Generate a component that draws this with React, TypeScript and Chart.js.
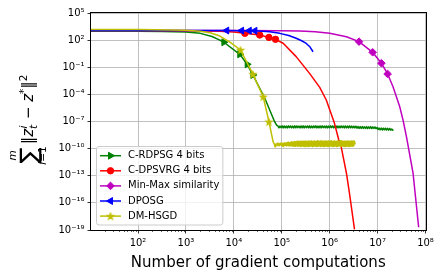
import React, { useEffect, useRef } from 'react';
import { Chart, registerables } from 'chart.js';

Chart.register(...registerables);

type Pt = [number, number];

// ---------- axes ----------
const xTickValues = [1e2, 1e3, 1e4, 1e5, 1e6, 1e7, 1e8];
const xTickLabels = ['10²', '10³', '10⁴', '10⁵', '10⁶', '10⁷', '10⁸'];
const yTickValues = [1e5, 1e2, 1e-1, 1e-4, 1e-7, 1e-10, 1e-13, 1e-16, 1e-19];
const yTickLabels = ['10⁵', '10²', '10⁻¹', '10⁻⁴', '10⁻⁷', '10⁻¹⁰', '10⁻¹³', '10⁻¹⁶', '10⁻¹⁹'];
const xMin = 10.45;
const xMax = 1e8;
const yMin = 1e-19;
const yMax = 1e5;
const xTitle = 'Number of gradient computations';

// ---------- series ----------
const seriesNames = ['C-RDPSG 4 bits', 'C-DPSVRG 4 bits', 'Min-Max similarity', 'DPOSG', 'DM-HSGD'];

const rdpsgPoints: Pt[] = [
  [10.45, 9.5e2], [1e2, 9.5e2], [3.2e2, 9.2e2], [1e3, 7.8e2], [2e3, 5.6e2], [3.5e3, 2.5e2], [5.1e3, 1.0e2],
  [6.2e3, 5.8e1], [1.33e4, 2.7], [1.9e4, 2.1e-1], [2.5e4, 1.4e-2], [4.5e4, 3.1e-5], [7.1e4, 9.5e-8], [7.8e4, 4.0e-8],
  [8.3e4, 3.2e-8], [8.73e4, 2.0e-8], [9.18e4, 3.1e-8], [9.66e4, 2.1e-8], [1.016e5, 3.3e-8], [1.069e5, 1.95e-8],
  [1.125e5, 3.2e-8], [1.183e5, 2.0e-8], [1.245e5, 3.1e-8], [1.309e5, 1.95e-8], [1.377e5, 3.3e-8], [1.449e5, 2.1e-8],
  [1.524e5, 3.2e-8], [1.604e5, 2.0e-8], [1.687e5, 3.1e-8], [1.775e5, 1.95e-8], [1.867e5, 3.3e-8], [1.964e5, 2.0e-8],
  [2.066e5, 3.2e-8], [2.174e5, 2.1e-8], [2.287e5, 3.1e-8], [2.406e5, 1.95e-8], [2.531e5, 3.2e-8], [2.662e5, 2.0e-8],
  [2.801e5, 3.3e-8], [2.946e5, 1.95e-8], [3.099e5, 3.1e-8], [3.261e5, 2.1e-8], [3.43e5, 3.2e-8], [3.609e5, 2.0e-8],
  [3.796e5, 3.3e-8], [3.994e5, 1.95e-8], [4.201e5, 3.1e-8], [4.42e5, 2.0e-8], [4.65e5, 3.2e-8], [4.891e5, 2.1e-8],
  [5.146e5, 3.3e-8], [5.413e5, 1.95e-8], [5.695e5, 3.1e-8], [5.991e5, 2.0e-8], [6.302e5, 3.2e-8], [6.63e5, 1.95e-8],
  [6.975e5, 3.3e-8], [7.337e5, 2.1e-8], [7.719e5, 3.1e-8], [8.12e5, 2.0e-8], [8.542e5, 3.2e-8], [8.986e5, 1.95e-8],
  [9.454e5, 3.1e-8], [9.945e5, 2.0e-8], [1.046e6, 3.3e-8], [1.101e6, 2.1e-8], [1.158e6, 3.2e-8], [1.218e6, 1.95e-8],
  [1.281e6, 3.1e-8], [1.348e6, 2.0e-8], [1.418e6, 3.2e-8], [1.492e6, 1.95e-8], [1.57e6, 3.1e-8], [1.651e6, 2.0e-8],
  [1.737e6, 3.2e-8], [1.827e6, 2.1e-8], [1.922e6, 3.1e-8], [2.022e6, 1.95e-8], [2.128e6, 3.2e-8], [2.238e6, 2.0e-8],
  [2.355e6, 3.1e-8], [2.477e6, 1.95e-8], [2.606e6, 3.2e-8], [2.741e6, 2.0e-8], [2.884e6, 3.1e-8], [3.034e6, 2.0e-8],
  [3.191e6, 3.0e-8], [3.357e6, 1.95e-8], [3.532e6, 3.0e-8], [3.716e6, 1.8e-8], [3.909e6, 2.8e-8], [4.112e6, 1.75e-8],
  [4.326e6, 2.7e-8], [4.551e6, 1.7e-8], [4.787e6, 2.7e-8], [5.036e6, 1.75e-8], [5.298e6, 2.6e-8], [5.574e6, 1.7e-8],
  [5.864e6, 2.7e-8], [6.169e6, 1.65e-8], [6.489e6, 2.6e-8], [6.827e6, 1.7e-8], [7.182e6, 2.7e-8], [7.555e6, 1.65e-8],
  [7.948e6, 2.6e-8], [8.361e6, 1.7e-8], [8.796e6, 2.5e-8], [9.253e6, 1.6e-8], [9.735e6, 2.2e-8], [1.024e7, 1.3e-8],
  [1.077e7, 1.9e-8], [1.133e7, 1.2e-8], [1.192e7, 1.85e-8], [1.254e7, 1.15e-8], [1.319e7, 1.8e-8], [1.388e7, 1.2e-8],
  [1.46e7, 1.8e-8], [1.536e7, 1.15e-8], [1.616e7, 1.75e-8], [1.7e7, 1.1e-8], [1.788e7, 1.7e-8], [1.881e7, 1.1e-8],
  [1.979e7, 1.5e-8], [2.082e7, 1.1e-8], [2.15e7, 1.2e-8],
];
const rdpsgMarks = [7, 8, 9, 10];

const dpsvrgPoints: Pt[] = [
  [10.45, 1.15e3], [1e2, 1.15e3], [1e3, 1.1e3], [5e3, 9.5e2], [1e4, 8.0e2], [1.7e4, 5.6e2], [3.47e4, 3.7e2],
  [5.4e4, 2.0e2], [7.4e4, 1.23e2], [1.07e5, 4.5e1], [2.0e5, 1.5], [3.8e5, 2.1e-2], [6.2e5, 6.0e-4],
  [8.5e5, 2.4e-5], [1.26e6, 6.3e-8], [1.55e6, 8.9e-10], [1.74e6, 1.6e-10], [2.24e6, 1.9e-13], [2.6e6, 1.0e-15],
  [3.3e6, 1.2e-19],
];
const dpsvrgMarks = [5, 6, 7, 8];

const minmaxPoints: Pt[] = [
  [10.45, 1.15e3], [1e2, 1.15e3], [1e4, 1.13e3], [1e5, 1.08e3], [2.4e5, 1.0e3], [5e5, 8.2e2], [1e6, 5.6e2],
  [2.24e6, 2.4e2], [4.1e6, 6.8e1], [7.9e6, 4.5], [1.2e7, 2.8e-1], [1.62e7, 1.8e-2], [2.1e7, 7.0e-4],
  [2.9e7, 4.3e-6], [3.4e7, 1.4e-7], [4.0e7, 2.1e-9], [5.5e7, 1.9e-13], [7.2e7, 2.0e-19],
];
const minmaxMarks = [8, 9, 10, 11];

const dposgPoints: Pt[] = [
  [10.45, 1.15e3], [1e2, 1.15e3], [1e3, 1.15e3], [7.1e3, 1.14e3], [1.45e4, 1.12e3], [2.1e4, 1.1e3],
  [2.75e4, 1.08e3], [5.6e4, 8.5e2], [9.1e4, 5.6e2], [1.4e5, 3.2e2], [2.0e5, 1.6e2], [2.6e5, 8.5e1],
  [3.25e5, 4.3e1], [3.9e5, 1.7e1], [4.5e5, 5.2],
];
const dposgMarks = [3, 4, 5, 6];

const hsgdPoints: Pt[] = [
  [10.45, 1.45e3], [1e2, 1.45e3], [5e2, 1.35e3], [1e3, 1.2e3], [2e3, 9.5e2], [3.2e3, 6.5e2], [5.1e3, 2.8e2],
  [8.3e3, 6.0e1], [1.38e4, 8.1], [2.5e4, 1.7e-2], [4.1e4, 5.5e-5], [5.4e4, 9.5e-8], [6.6e4, 6.0e-10],
  [7.0e4, 3.0e-10], [7.25e4, 1.6e-10], [7.5e4, 3.3e-10], [7.76e4, 2.4e-10], [8.03e4, 4.0e-10], [8.31e4, 2.2e-10],
  [8.6e4, 3.6e-10], [8.9e4, 2.1e-10], [9.21e4, 3.9e-10], [9.53e4, 2.5e-10], [9.86e4, 4.3e-10], [1.02e5, 2.0e-10],
  [1.056e5, 3.8e-10], [1.093e5, 1.7e-10], [1.131e5, 4.5e-10], [1.17e5, 2.3e-10], [1.211e5, 4.1e-10], [1.253e5, 2.0e-10],
  [1.297e5, 4.8e-10], [1.342e5, 2.2e-10], [1.389e5, 5.2e-10], [1.438e5, 1.9e-10], [1.488e5, 4.9e-10], [1.54e5, 2.1e-10],
  [1.594e5, 5.6e-10], [1.65e5, 1.9e-10], [1.707e5, 5.3e-10], [1.767e5, 2.0e-10], [1.829e5, 6.0e-10], [1.893e5, 1.8e-10],
  [1.959e5, 5.7e-10], [2.027e5, 2.1e-10], [2.098e5, 6.4e-10], [2.172e5, 1.8e-10], [2.248e5, 6.1e-10], [2.326e5, 1.9e-10],
  [2.408e5, 6.6e-10], [2.492e5, 1.7e-10], [2.579e5, 6.2e-10], [2.669e5, 2.0e-10], [2.763e5, 6.8e-10], [2.86e5, 1.8e-10],
  [2.96e5, 6.5e-10], [3.063e5, 1.7e-10], [3.17e5, 7.0e-10], [3.281e5, 1.9e-10], [3.396e5, 6.3e-10], [3.515e5, 1.7e-10],
  [3.638e5, 6.9e-10], [3.765e5, 1.8e-10], [3.897e5, 6.6e-10], [4.033e5, 2.0e-10], [4.175e5, 7.1e-10], [4.321e5, 1.7e-10],
  [4.472e5, 6.4e-10], [4.628e5, 1.8e-10], [4.79e5, 7.0e-10], [4.958e5, 1.9e-10], [5.131e5, 6.7e-10], [5.311e5, 1.7e-10],
  [5.497e5, 7.2e-10], [5.689e5, 1.8e-10], [5.888e5, 6.5e-10], [6.094e5, 2.0e-10], [6.308e5, 7.0e-10], [6.528e5, 1.7e-10],
  [6.757e5, 6.8e-10], [6.993e5, 1.9e-10], [7.238e5, 7.1e-10], [7.491e5, 1.7e-10], [7.754e5, 6.6e-10], [8.025e5, 1.8e-10],
  [8.306e5, 7.2e-10], [8.597e5, 1.9e-10], [8.898e5, 6.5e-10], [9.209e5, 1.7e-10], [9.531e5, 7.0e-10], [9.865e5, 1.8e-10],
  [1.021e6, 6.8e-10], [1.057e6, 2.0e-10], [1.094e6, 7.2e-10], [1.132e6, 1.7e-10], [1.172e6, 6.6e-10], [1.213e6, 1.8e-10],
  [1.255e6, 7.1e-10], [1.299e6, 1.9e-10], [1.345e6, 6.7e-10], [1.392e6, 1.7e-10], [1.44e6, 7.0e-10], [1.491e6, 1.8e-10],
  [1.543e6, 6.5e-10], [1.597e6, 2.0e-10], [1.653e6, 7.2e-10], [1.711e6, 1.7e-10], [1.771e6, 6.8e-10], [1.833e6, 1.9e-10],
  [1.897e6, 7.0e-10], [1.963e6, 1.8e-10], [2.032e6, 6.6e-10], [2.103e6, 1.7e-10], [2.177e6, 7.1e-10], [2.253e6, 1.9e-10],
  [2.332e6, 6.7e-10], [2.413e6, 1.8e-10], [2.498e6, 7.0e-10], [2.585e6, 1.7e-10], [2.676e6, 6.5e-10], [2.769e6, 1.9e-10],
  [2.866e6, 7.1e-10], [2.967e6, 1.8e-10], [3.07e6, 6.8e-10], [3.178e6, 2.0e-10], [3.289e6, 6.6e-10], [3.4e6, 3.0e-10],
];
const hsgdMarks = [8, 9, 10, 11];

// ---------- styles ----------
const FONT = '"DejaVu Sans", sans-serif';
const colors = ['#008000', '#ff0000', '#bf00bf', '#0000ff', '#bfbf00'];

function makeStar(color: string): HTMLCanvasElement {
  const c = document.createElement('canvas');
  c.width = 12;
  c.height = 12;
  const g = c.getContext('2d')!;
  g.beginPath();
  for (let i = 0; i < 10; i++) {
    const r = i % 2 === 0 ? 5 : 2.1;
    const a = -Math.PI / 2 + (i * Math.PI) / 5;
    const px = 6 + r * Math.cos(a);
    const py = 6.4 + r * Math.sin(a);
    if (i === 0) g.moveTo(px, py);
    else g.lineTo(px, py);
  }
  g.closePath();
  g.fillStyle = color;
  g.fill();
  return c;
}

function drawMarker(ctx: CanvasRenderingContext2D, kind: string, x: number, y: number, color: string, star: HTMLCanvasElement) {
  ctx.save();
  ctx.fillStyle = color;
  ctx.strokeStyle = color;
  ctx.lineWidth = 1;
  ctx.beginPath();
  if (kind === 'right' || kind === 'left') {
    const r = 4;
    const d = kind === 'right' ? 1 : -1;
    ctx.moveTo(x + d * r, y);
    ctx.lineTo(x - d * r * 0.5, y - r * 0.866);
    ctx.lineTo(x - d * r * 0.5, y + r * 0.866);
    ctx.closePath();
    ctx.fill();
    ctx.stroke();
  } else if (kind === 'circle') {
    ctx.arc(x, y, 3.2, 0, Math.PI * 2);
    ctx.fill();
    ctx.stroke();
  } else if (kind === 'diamond') {
    const r = 3.8;
    ctx.moveTo(x, y - r);
    ctx.lineTo(x + r, y);
    ctx.lineTo(x, y + r);
    ctx.lineTo(x - r, y);
    ctx.closePath();
    ctx.fill();
    ctx.stroke();
  } else {
    ctx.drawImage(star, x - star.width / 2, y - star.height / 2);
  }
  ctx.restore();
}

function drawYLabel(ctx: CanvasRenderingContext2D) {
  ctx.save();
  ctx.translate(33, 119);
  ctx.rotate(-Math.PI / 2);
  ctx.fillStyle = '#000';
  ctx.textBaseline = 'alphabetic';
  ctx.textAlign = 'left';
  const fBig = `24px ${FONT}`;
  const fMain = `15px ${FONT}`;
  const fIt = `italic 15px ${FONT}`;
  const fS = `10.5px ${FONT}`;
  const fSI = `italic 10.5px ${FONT}`;
  const m = (t: string, f: string) => {
    ctx.font = f;
    return ctx.measureText(t).width;
  };
  const wSig = m('∑', fBig);
  const wBar = m('‖', fMain);
  const wz = m('z', fIt);
  const wit = Math.max(m('i', fSI), m('t', fSI));
  const wMinus = m(' − ', fMain);
  const wStar = m('*', fS);
  const w2 = m('2', fS);
  const total = wSig + 3 + wBar + wz + wit + 1 + wMinus + wz + wStar + wBar + w2;
  let x = -total / 2;
  const put = (t: string, f: string, px: number, py: number) => {
    ctx.font = f;
    ctx.fillText(t, px, py);
  };
  put('∑', fBig, x, 4);
  const cSig = x + wSig / 2;
  ctx.textAlign = 'center';
  put('m', fSI, cSig, -17);
  ctx.font = fSI;
  const wi = ctx.measureText('i').width;
  ctx.font = fS;
  const weq1 = ctx.measureText('=1').width;
  ctx.textAlign = 'left';
  const startI = cSig - (wi + weq1) / 2;
  put('i', fSI, startI, 13);
  put('=1', fS, startI + wi, 13);
  x += wSig + 3;
  put('‖', fMain, x, 0);
  x += wBar;
  put('z', fIt, x, 0);
  x += wz;
  put('i', fSI, x + 0.5, -6);
  put('t', fSI, x, 3.5);
  x += wit + 1;
  put(' − ', fMain, x, 0);
  x += wMinus;
  put('z', fIt, x, 0);
  x += wz;
  put('*', fS, x, -6);
  x += wStar;
  put('‖', fMain, x, 0);
  x += wBar;
  put('2', fS, x, -6);
  ctx.restore();
}

export default function App() {
  const ref = useRef<HTMLCanvasElement | null>(null);

  useEffect(() => {
    document.body.style.margin = '0';
    const canvas = ref.current;
    if (!canvas) return;
    const star = makeStar(colors[4]);
    const seriesPoints = [rdpsgPoints, dpsvrgPoints, minmaxPoints, dposgPoints, hsgdPoints];
    const seriesMarks = [rdpsgMarks, dpsvrgMarks, minmaxMarks, dposgMarks, hsgdMarks];
    const markerKinds = ['right', 'circle', 'diamond', 'left', 'star'];
    const pointStyles: any[] = ['triangle', 'circle', 'rectRot', 'triangle', star];
    const rotations = [90, 0, 0, 270, 0];
    const radii = [4, 3.2, 3.8, 4, 5];

    const datasets = seriesPoints.map((pts, k) => ({
      label: seriesNames[k],
      data: pts.map(([x, y]) => ({ x, y })),
      borderColor: colors[k],
      backgroundColor: colors[k],
      borderWidth: 1.5,
      borderJoinStyle: 'round' as const,
      tension: 0,
      fill: false,
      order: 5 - k,
      pointStyle: pointStyles[k],
      rotation: rotations[k],
      pointBorderWidth: 1,
      pointBorderColor: colors[k],
      pointBackgroundColor: colors[k],
      pointHoverRadius: 0,
      pointRadius: (c: any) => (seriesMarks[k].includes(c.dataIndex) ? radii[k] : 0),
    }));

    const decor = {
      id: 'decor',
      afterDraw(chart: any) {
        const ctx: CanvasRenderingContext2D = chart.ctx;
        const a = chart.chartArea;
        const xs = chart.scales.x;
        ctx.save();
        // minor ticks on x
        ctx.strokeStyle = '#000';
        ctx.lineWidth = 0.6;
        for (let n = 1; n < 8; n++) {
          for (let k = 2; k <= 9; k++) {
            const v = k * Math.pow(10, n);
            if (v < xMin || v > xMax) continue;
            const px = Math.round(xs.getPixelForValue(v)) + 0.5;
            ctx.beginPath();
            ctx.moveTo(px, a.bottom);
            ctx.lineTo(px, a.bottom + 2);
            ctx.stroke();
          }
        }
        // frame
        ctx.lineWidth = 1;
        ctx.strokeStyle = '#000';
        ctx.strokeRect(Math.round(a.left) - 0.5, Math.round(a.top) - 0.5, Math.round(a.right - a.left) + 1, Math.round(a.bottom - a.top) + 1);

        // legend
        ctx.font = `10px ${FONT}`;
        let maxW = 0;
        seriesNames.forEach((s) => (maxW = Math.max(maxW, ctx.measureText(s).width)));
        const lx = a.left + 5.5;
        const top = 146.5;
        const rowH = 15.1;
        const bw = 31 + maxW + 4;
        const bh = rowH * 5 + 3;
        ctx.beginPath();
        const r = 2.5;
        ctx.moveTo(lx + r, top);
        ctx.lineTo(lx + bw - r, top);
        ctx.quadraticCurveTo(lx + bw, top, lx + bw, top + r);
        ctx.lineTo(lx + bw, top + bh - r);
        ctx.quadraticCurveTo(lx + bw, top + bh, lx + bw - r, top + bh);
        ctx.lineTo(lx + r, top + bh);
        ctx.quadraticCurveTo(lx, top + bh, lx, top + bh - r);
        ctx.lineTo(lx, top + r);
        ctx.quadraticCurveTo(lx, top, lx + r, top);
        ctx.closePath();
        ctx.fillStyle = 'rgba(255,255,255,0.8)';
        ctx.fill();
        ctx.strokeStyle = '#cccccc';
        ctx.lineWidth = 1;
        ctx.stroke();
        seriesNames.forEach((s, k) => {
          const cy = top + 9.2 + k * rowH;
          ctx.strokeStyle = colors[k];
          ctx.lineWidth = 1.5;
          ctx.beginPath();
          ctx.moveTo(lx + 3.5, cy);
          ctx.lineTo(lx + 24.5, cy);
          ctx.stroke();
          drawMarker(ctx, markerKinds[k], lx + 14, cy, colors[k], star);
          ctx.fillStyle = '#000';
          ctx.font = `10px ${FONT}`;
          ctx.textAlign = 'left';
          ctx.textBaseline = 'middle';
          ctx.fillText(s, lx + 31.5, cy);
        });

        // axis titles
        ctx.fillStyle = '#000';
        ctx.font = `15px ${FONT}`;
        ctx.textAlign = 'center';
        ctx.textBaseline = 'alphabetic';
        ctx.fillText(xTitle, (a.left + a.right) / 2, 266.5);
        drawYLabel(ctx);
        ctx.restore();
      },
    };

    const chart = new Chart(canvas, {
      type: 'line',
      data: { datasets: datasets as any },
      options: {
        animation: false,
        responsive: false,
        devicePixelRatio: 1,
        parsing: true,
        layout: { padding: { left: 0, top: 13, right: 16.5, bottom: 0 } },
        plugins: { legend: { display: false }, tooltip: { enabled: false } },
        scales: {
          x: {
            type: 'logarithmic',
            min: xMin,
            max: xMax,
            bounds: 'data',
            afterBuildTicks: (s: any) => {
              s.ticks = xTickValues.map((v) => ({ value: v }));
            },
            afterFit: (s: any) => {
              s.height = 47;
            },
            ticks: {
              autoSkip: false,
              maxRotation: 0,
              padding: 4,
              color: '#000',
              font: { family: FONT, size: 10 },
              callback: (v: any) => xTickLabels[xTickValues.indexOf(Number(v))] ?? '',
            },
            grid: { color: '#b0b0b0', lineWidth: 0.8, tickColor: '#000', tickLength: 3.5, tickWidth: 0.8 },
            border: { display: false },
          },
          y: {
            type: 'logarithmic',
            min: yMin,
            max: yMax,
            bounds: 'data',
            afterBuildTicks: (s: any) => {
              s.ticks = yTickValues.map((v) => ({ value: v }));
            },
            afterFit: (s: any) => {
              s.width = 91;
            },
            ticks: {
              autoSkip: false,
              padding: 3,
              color: '#000',
              font: { family: FONT, size: 10 },
              callback: (v: any) => yTickLabels[yTickValues.indexOf(Number(v))] ?? '',
            },
            grid: { color: '#b0b0b0', lineWidth: 0.8, tickColor: '#000', tickLength: 3.5, tickWidth: 0.8 },
            border: { display: false },
          },
        },
      } as any,
      plugins: [decor],
    });
    return () => chart.destroy();
  }, []);

  return <canvas ref={ref} width={442} height={277} style={{ display: 'block', width: 442, height: 277 }} />;
}
